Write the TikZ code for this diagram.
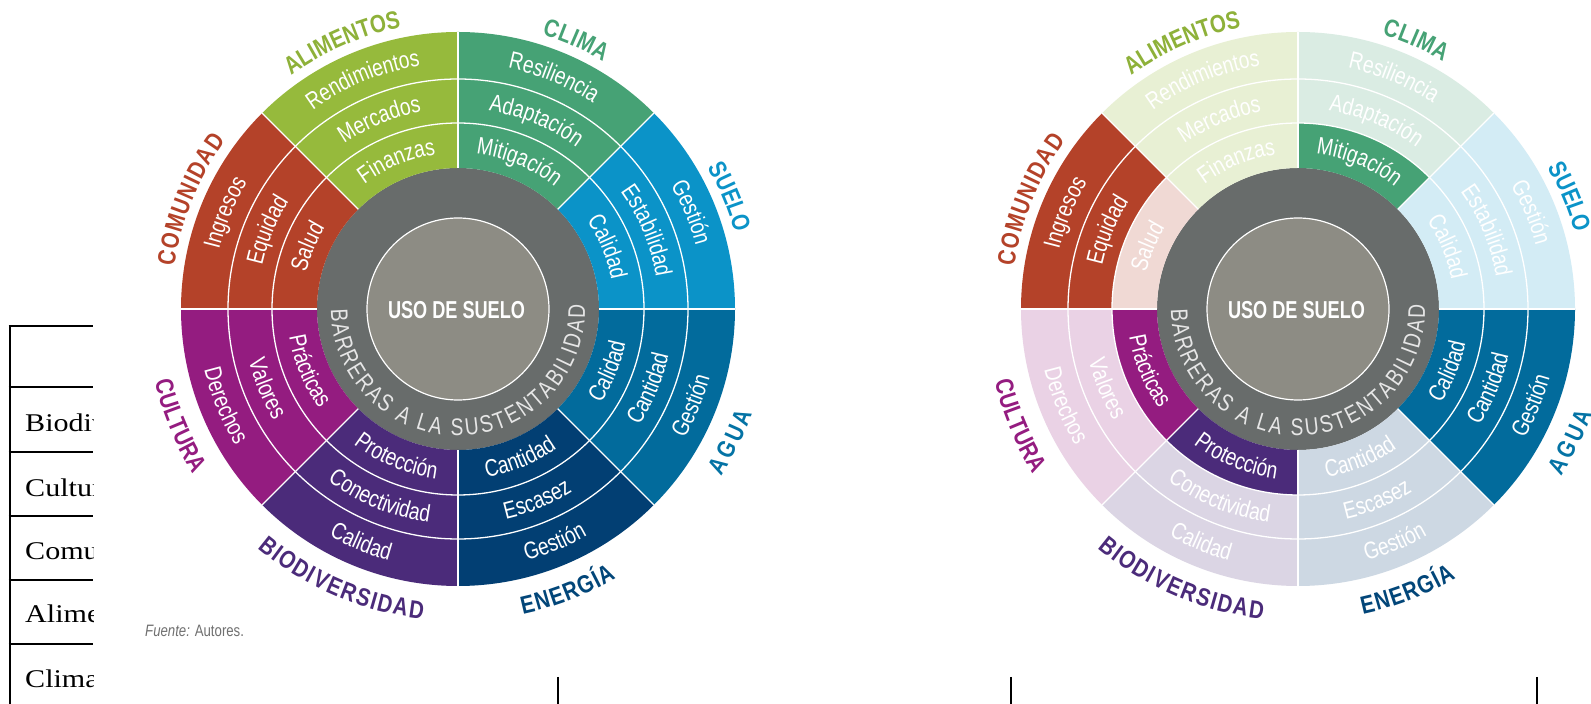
\documentclass[tikz,border=0pt]{standalone}
\usepackage{fontspec}
\setmainfont{Liberation Sans}
\newfontfamily\itemfam[FakeStretch=0.80]{Liberation Sans}
\newfontfamily\labfam[FakeStretch=0.82]{Liberation Sans}
\newfontfamily\usofam[FakeStretch=0.74]{Liberation Sans}
\newfontfamily\tabfam[FakeStretch=1.18]{Liberation Serif}
\usetikzlibrary{decorations.text}
\definecolor{cCom}{HTML}{B44229}
\definecolor{cAli}{HTML}{96BA3C}
\definecolor{cCli}{HTML}{46A275}
\definecolor{cSue}{HTML}{0B93C8}
\definecolor{cAgu}{HTML}{026B9C}
\definecolor{cEne}{HTML}{023F73}
\definecolor{cBio}{HTML}{4B2B7A}
\definecolor{cCul}{HTML}{941C80}
\definecolor{cRing}{HTML}{686C6B}
\definecolor{cCore}{HTML}{8D8C84}
\definecolor{cRingTxt}{HTML}{E6E6E6}
\definecolor{cFuente}{HTML}{707070}
\newcommand\itemfont{\itemfam\fontsize{24}{24}\selectfont}
\newcommand\labfont{\labfam\bfseries\fontsize{25}{25}\selectfont}
\newcommand\ringfont{\itemfam\fontsize{24}{24}\selectfont}
\tikzset{
  divider/.style={white, line width=1.3pt},
  tabline/.style={black, line width=2pt},
}
% one ring cell
\newcommand\cell[5]{% a1, a2, rin, rout, colour
  \fill[#5] (#1:#4) arc[start angle=#1, end angle=#2, radius=#4] -- (#2:#3) arc[start angle=#2, end angle=#1, radius=#3] -- cycle;}
% curved item text: a1 a2 (path direction), radius, text
\newcommand\itemtext[4]{%
  \path[decorate, decoration={text along path, text align=center, text color=white, text={|\itemfont|#4}}] (#1:#3) arc[start angle=#1, end angle=#2, radius=#3];}
% sector: angle, outer, middle, inner texts, outer, middle, inner colours
\newcommand\sector[7]{%
  \pgfmathsetmacro\sa{#1}\pgfmathsetmacro\sb{#1+45}%
  \cell{\sa}{\sb}{230}{277}{#5}%
  \cell{\sa}{\sb}{186}{230}{#6}%
  \cell{\sa}{\sb}{141}{186}{#7}%
  \ifnum#1<180
    \itemtext{\sb}{\sa}{246}{#2}\itemtext{\sb}{\sa}{200.5}{#3}\itemtext{\sb}{\sa}{156}{#4}%
  \else
    \itemtext{\sa}{\sb}{261}{#2}\itemtext{\sa}{\sb}{215.5}{#3}\itemtext{\sa}{\sb}{171}{#4}%
  \fi}
\newcommand\labeltext[5]{% a1 a2 r text colour
  \path[decorate, decoration={text along path, text align={fit to path}, text color=#5, text={|\labfont|#4}}] (#1:#3) arc[start angle=#1, end angle=#2, radius=#3];}
\newcommand\wheelbase{%
  \fill[cRing] (0,0) circle[radius=141];
  \fill[cCore] (0,0) circle[radius=91];
  \draw[white, line width=1.2pt] (0,0) circle[radius=91];}
\newcommand\wheeltop[1]{%
  \draw[divider] (0,0) circle[radius=186];
  \draw[divider] (0,0) circle[radius=230];
  \foreach \t in {0,45,...,315} {\draw[divider] (\t:141) -- (\t:277);}
  \node[text=white, font={\usofam\bfseries\fontsize{24.5}{24.5}\selectfont}] (uso#1) at (-1.5,-1.5) {USO DE SUELO};
  \path[decorate, decoration={text along path, text align={fit to path}, text color=cRingTxt, text={|\ringfont|BARRERAS A LA SUSTENTABILIDAD}}] (180:127) arc[start angle=180, end angle=362, radius=127];
  \labeltext{171.5}{144}{287}{COMUNIDAD}{cCom}
  \labeltext{125.5}{101.5}{287}{ALIMENTOS}{cAli!95!black}
  \labeltext{73}{59.5}{287}{CLIMA}{cCli}
  \labeltext{29.5}{15.8}{287}{SUELO}{cSue}
  \labeltext{-166.5}{-148}{312}{CULTURA}{cCul}
  \labeltext{-130}{-96.5}{312}{BIODIVERSIDAD}{cBio}
  \labeltext{-78}{-59.5}{312}{ENERGÍA}{cEne!85!cAgu}
  \labeltext{-32.5}{-19.5}{312}{AGUA}{cAgu!80!cSue}}
\begin{document}
\begin{tikzpicture}[x=1pt,y=1pt]
\useasboundingbox (0,0) rectangle (1591,704);
\fill[white] (0,0) rectangle (1591,704);
% table fragment
\begin{scope}
  \clip (0,0) rectangle (93,704);
  \draw[tabline] (9.5,378) -- (9.5,0);
  \foreach \yy in {378,317,252,188,124,60} {\draw[tabline] (8.5,\yy) -- (93,\yy);}
  \node[anchor=base west, inner sep=0pt, font={\tabfam\fontsize{25.5}{25.5}\selectfont}] (t1) at (25,272) {Biodiversidad};
  \node[anchor=base west, inner sep=0pt, font={\tabfam\fontsize{25.5}{25.5}\selectfont}] (t2) at (25,207) {Cultura};
  \node[anchor=base west, inner sep=0pt, font={\tabfam\fontsize{25.5}{25.5}\selectfont}] (t3) at (25,144) {Comunidad};
  \node[anchor=base west, inner sep=0pt, font={\tabfam\fontsize{25.5}{25.5}\selectfont}] (t4) at (25,81) {Alimentos};
  \node[anchor=base west, inner sep=0pt, font={\tabfam\fontsize{25.5}{25.5}\selectfont}] (t5) at (25,16) {Clima};
\end{scope}
% bottom rules
\draw[tabline] (558,27) -- (558,0);
\draw[tabline] (1011,27) -- (1011,0);
\draw[tabline] (1537,27) -- (1537,0);
% left wheel
\begin{scope}[shift={(458,395)}]
  \wheelbase
  \sector{0}{Gestión}{Estabilidad}{Calidad}{cSue}{cSue}{cSue}
  \sector{45}{Resiliencia}{Adaptación}{Mitigación}{cCli}{cCli}{cCli}
  \sector{90}{Rendimientos}{Mercados}{Finanzas}{cAli}{cAli}{cAli}
  \sector{135}{Ingresos}{Equidad}{Salud}{cCom}{cCom}{cCom}
  \sector{180}{Derechos}{Valores}{Prácticas}{cCul}{cCul}{cCul}
  \sector{225}{Calidad}{Conectividad}{Protección}{cBio}{cBio}{cBio}
  \sector{270}{Gestión}{Escasez}{Cantidad}{cEne}{cEne}{cEne}
  \sector{315}{Gestión}{Cantidad}{Calidad}{cAgu}{cAgu}{cAgu}
  \wheeltop{L}
\end{scope}
\node[anchor=base west, inner sep=0pt, text=cFuente, font={\itemfam\fontsize{16.5}{16.5}\selectfont}] (fuente) at (145,67) {\textit{Fuente:} Autores.};
% right wheel
\begin{scope}[shift={(1298,395)}]
  \wheelbase
  \sector{0}{Gestión}{Estabilidad}{Calidad}{cSue!18}{cSue!18}{cSue!18}
  \sector{45}{Resiliencia}{Adaptación}{Mitigación}{cCli!20}{cCli!20}{cCli}
  \sector{90}{Rendimientos}{Mercados}{Finanzas}{cAli!22}{cAli!22}{cAli!22}
  \sector{135}{Ingresos}{Equidad}{Salud}{cCom}{cCom}{cCom!20}
  \sector{180}{Derechos}{Valores}{Prácticas}{cCul!20}{cCul!20}{cCul}
  \sector{225}{Calidad}{Conectividad}{Protección}{cBio!20}{cBio!20}{cBio}
  \sector{270}{Gestión}{Escasez}{Cantidad}{cEne!20}{cEne!20}{cEne!20}
  \sector{315}{Gestión}{Cantidad}{Calidad}{cAgu}{cAgu}{cAgu}
  \wheeltop{R}
\end{scope}
\end{tikzpicture}
\end{document}
